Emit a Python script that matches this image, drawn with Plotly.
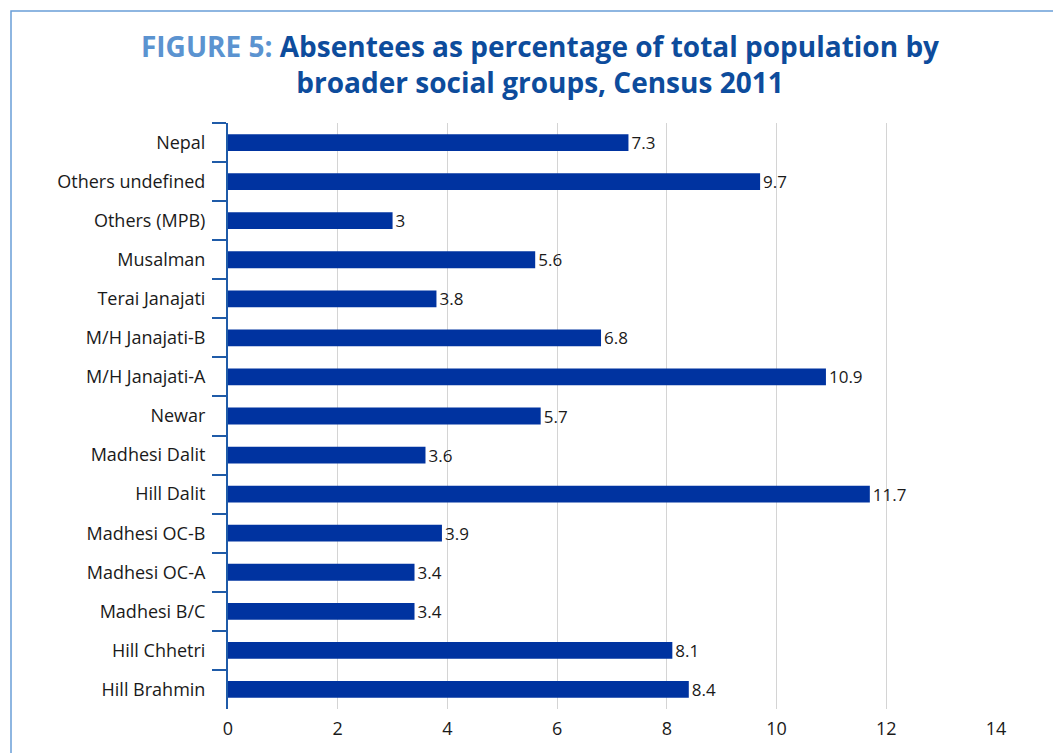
import plotly.graph_objects as go

categories = ["Nepal", "Others undefined", "Others (MPB)", "Musalman", "Terai Janajati",
              "M/H Janajati-B", "M/H Janajati-A", "Newar", "Madhesi Dalit", "Hill Dalit",
              "Madhesi OC-B", "Madhesi OC-A", "Madhesi B/C", "Hill Chhetri", "Hill Brahmin"]
values = [7.3, 9.7, 3, 5.6, 3.8, 6.8, 10.9, 5.7, 3.6, 11.7, 3.9, 3.4, 3.4, 8.1, 8.4]
x_ticks = [0, 2, 4, 6, 8, 10, 12, 14]

W, H = 1053, 753
L, R, T, B = 228, 57, 123, 44
pw, ph = W - L - R, H - T - B

def px_x(p):
    return (p - L) / pw

def px_y(p):
    return (H - B - p) / ph

LBL = "Open Sans"

fig = go.Figure(go.Bar(
    y=categories, x=values, orientation="h",
    marker=dict(color="#0033a0", line=dict(width=0)),
    text=[str(v) for v in values], textposition="outside", constraintext="none",
    textfont=dict(family=LBL, size=17, color="#1a1a1a"),
    cliponaxis=False, width=0.43,
))

fig.update_layout(
    width=W, height=H,
    margin=dict(l=L, r=R, t=T, b=B),
    paper_bgcolor="white", plot_bgcolor="white",
    showlegend=False,
    font=dict(family=LBL, size=17, color="#1a1a1a"),
    title=dict(
        text="<b><span style='color:#5b93d0'>FIGURE 5:</span> Absentees as percentage of total population by<br>broader social groups, Census 2011</b>",
        x=540 / W, xanchor="center", y=1 - 57 / H, yanchor="top",
        font=dict(family="Open Sans", size=28, color="#0d4c9c"),
    ),
    xaxis=dict(range=[0, 14], tickvals=x_ticks, showgrid=True, gridcolor="#d4d4d4", gridwidth=1,
               zeroline=False, showline=False, ticks="", ticklabelstandoff=7,
               tickfont=dict(size=18, color="#1a1a1a")),
    yaxis=dict(autorange="reversed", showline=True, linecolor="#1f5ba8", linewidth=2,
               ticks="outside", tickson="boundaries", ticklen=14, tickcolor="#1f5ba8", tickwidth=2,
               ticklabelstandoff=17,
               showgrid=False, tickfont=dict(size=18, color="#1a1a1a")),
    shapes=[dict(type="rect", xref="paper", yref="paper",
                 x0=px_x(11), x1=px_x(W + 20), y0=px_y(H + 20), y1=px_y(11),
                 line=dict(color="#6a9fd8", width=1.5), fillcolor="rgba(0,0,0,0)", layer="below")],
)

fig.write_html("out.html")
